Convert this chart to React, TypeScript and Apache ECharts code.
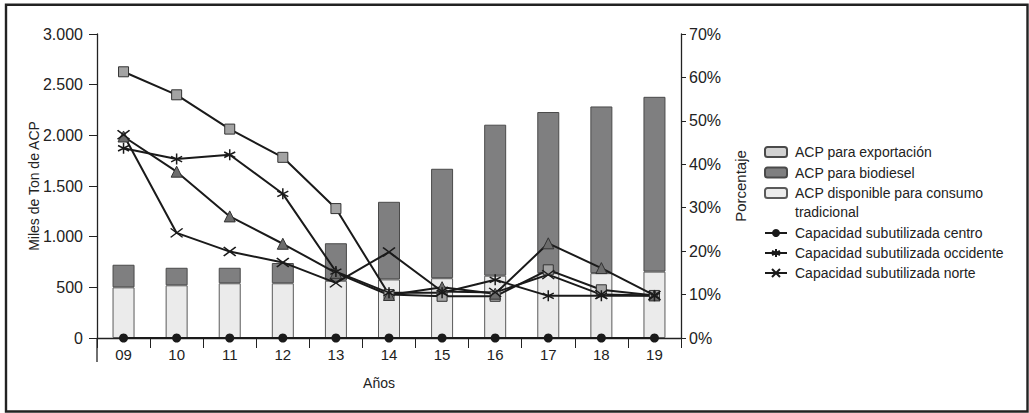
import React, { useEffect, useRef } from "react";
import * as echarts from "echarts";

const years = ["09", "10", "11", "12", "13", "14", "15", "16", "17", "18", "19"];
const acpDisponible = [500, 520, 540, 540, 565, 578, 590, 615, 640, 640, 655];
const acpBiodiesel = [223, 173, 153, 200, 370, 766, 1080, 1490, 1590, 1645, 1725];
const acpExportacion: (number | null)[] = [null, null, null, null, null, null, null, null, null, null, null];
const capCentro = [0, 0, 0, 0, 0, 0, 0, 0, 0, 0, 0];
const capOccidente = [43.7, 41.2, 42.2, 33.2, 15.3, 10.4, 10.4, 13.4, 9.7, 9.7, 9.7];
const capNorte = [46.8, 24.2, 19.9, 17.4, 12.7, 19.8, 10.7, 10.5, 14.6, 10.0, 9.8];
const capOriente = [61.3, 56.0, 48.1, 41.6, 29.8, 10.0, 9.6, 9.6, 15.7, 11.1, 9.8];
const capNacional = [46.4, 38.3, 28.0, 21.7, 15.0, 9.9, 11.7, 10.2, 21.8, 16.1, 9.8];

const FONT = "'Liberation Sans', Arial, Helvetica, sans-serif";
const LINE = "#1a1a1a";

const grid = { left: 97, right: 348, top: 34, bottom: 75 };

export default function App() {
  const ref = useRef<HTMLDivElement>(null);
  useEffect(() => {
    if (!ref.current) return;
    const chart = echarts.init(ref.current, undefined, { renderer: "svg" });
    const asterisk = "path://M5,0 L5,10 M0.7,2.5 L9.3,7.5 M0.7,7.5 L9.3,2.5";
    const cross = "path://M0,0 L12,9 M0,9 L12,0";
    const axisY0 = 413 - grid.bottom;
    const legendText = { fontSize: 14, color: "#222", lineHeight: 16, padding: [0, 0, 0, 3] };
    chart.setOption({
      animation: false,
      textStyle: { fontFamily: FONT },
      grid: grid,
      legend: [
        {
          orient: "vertical",
          left: 764,
          top: 144,
          padding: 0,
          itemWidth: 22,
          itemHeight: 10,
          itemGap: 4.5,
          textStyle: legendText,
          data: ["ACP para exportación", "ACP para biodiesel", "ACP disponible para consumo"],
        },
        {
          orient: "vertical",
          left: 764,
          top: 225,
          padding: 0,
          itemWidth: 22,
          itemHeight: 10,
          itemGap: 4,
          textStyle: legendText,
          data: [
            "Capacidad subutilizada centro",
            "Capacidad subutilizada occidente",
            "Capacidad subutilizada norte",
          ],
        },
      ],
      graphic: [
        {
          type: "rect",
          shape: { x: 6, y: 4.7, width: 1021.5, height: 406.8 },
          style: { fill: "none", stroke: "#222", lineWidth: 2.4 },
          silent: true,
        },
        {
          type: "text",
          left: 795,
          top: 205,
          style: { text: "tradicional", fontSize: 14, fill: "#222", fontFamily: FONT },
        },
        {
          type: "line",
          shape: { x1: grid.left, y1: axisY0, x2: grid.left, y2: axisY0 + 24 },
          style: { stroke: "#222", lineWidth: 1.3 },
          silent: true,
        },
      ],
      xAxis: {
        type: "category",
        data: years,
        boundaryGap: true,
        name: "Años",
        nameLocation: "middle",
        nameGap: 38,
        nameMoveOverlap: false,
        nameTextStyle: { fontSize: 14, color: "#222", padding: [0, 20, 0, 0] },
        axisLine: { lineStyle: { color: "#222", width: 1.3 } },
        axisTick: { show: true, length: 10, alignWithLabel: false, lineStyle: { color: "#222" } },
        axisLabel: { fontSize: 15, color: "#222", margin: 9 },
      },
      yAxis: [
        {
          type: "value",
          min: 0,
          max: 3000,
          interval: 500,
          name: "Miles de Ton de ACP",
          nameLocation: "middle",
          nameRotate: 90,
          nameGap: 56,
          nameMoveOverlap: false,
          nameTextStyle: { fontSize: 14, color: "#222" },
          axisLine: { show: true, lineStyle: { color: "#222", width: 1.3 } },
          axisTick: { show: true, length: 8, lineStyle: { color: "#222" } },
          splitLine: { show: false },
          axisLabel: {
            fontSize: 16,
            color: "#222",
            margin: 14,
            formatter: (v: number) => String(v).replace(/\B(?=(\d{3})+(?!\d))/g, "."),
          },
        },
        {
          type: "value",
          min: 0,
          max: 70,
          interval: 10,
          position: "right",
          name: "Porcentaje",
          nameLocation: "middle",
          nameRotate: 90,
          nameGap: 52,
          nameMoveOverlap: false,
          nameTextStyle: { fontSize: 15, color: "#222" },
          axisLine: { show: true, lineStyle: { color: "#222", width: 1.3 } },
          axisTick: { show: true, length: 5, lineStyle: { color: "#222" } },
          splitLine: { show: false },
          axisLabel: { fontSize: 16, color: "#222", margin: 8, formatter: "{value}%" },
        },
      ],
      series: [
        {
          name: "ACP disponible para consumo",
          type: "bar",
          stack: "acp",
          barWidth: 22,
          data: acpDisponible,
          itemStyle: { color: "#ebebeb", borderColor: "#5a5a5a", borderWidth: 1 },
        },
        {
          name: "ACP para biodiesel",
          type: "bar",
          stack: "acp",
          barWidth: 22,
          data: acpBiodiesel,
          itemStyle: { color: "#7f7f80", borderColor: "#4a4a4a", borderWidth: 1 },
        },
        {
          name: "ACP para exportación",
          type: "bar",
          stack: "acp",
          barWidth: 22,
          data: acpExportacion,
          itemStyle: { color: "#d2d2d2", borderColor: "#4a4a4a", borderWidth: 1 },
        },
        {
          name: "Capacidad subutilizada oriente",
          type: "line",
          yAxisIndex: 1,
          data: capOriente,
          symbol: "rect",
          symbolSize: 10,
          clip: false,
          z: 3,
          lineStyle: { color: LINE, width: 2 },
          itemStyle: { color: "#a3a3a3", borderColor: "#333", borderWidth: 1 },
        },
        {
          name: "Capacidad subutilizada nacional",
          type: "line",
          yAxisIndex: 1,
          data: capNacional,
          symbol: "triangle",
          symbolSize: 11,
          clip: false,
          z: 3,
          lineStyle: { color: LINE, width: 2 },
          itemStyle: { color: "#6c6c6c", borderColor: "#333", borderWidth: 1 },
        },
        {
          name: "Capacidad subutilizada occidente",
          type: "line",
          yAxisIndex: 1,
          data: capOccidente,
          symbol: asterisk,
          symbolSize: 11,
          clip: false,
          z: 3,
          lineStyle: { color: LINE, width: 2 },
          itemStyle: { color: LINE, borderColor: LINE, borderWidth: 1.5 },
        },
        {
          name: "Capacidad subutilizada norte",
          type: "line",
          yAxisIndex: 1,
          data: capNorte,
          symbol: cross,
          symbolSize: [12, 9],
          clip: false,
          z: 3,
          lineStyle: { color: LINE, width: 2 },
          itemStyle: { color: LINE, borderColor: LINE, borderWidth: 1.5 },
        },
        {
          name: "Capacidad subutilizada centro",
          type: "line",
          yAxisIndex: 1,
          data: capCentro,
          symbol: "circle",
          symbolSize: 9,
          clip: false,
          z: 4,
          lineStyle: { color: LINE, width: 2 },
          itemStyle: { color: LINE },
        },
      ],
    });
    return () => chart.dispose();
  }, []);
  return (
    <div
      ref={ref}
      style={{ position: "absolute", left: 0, top: 0, width: 1029, height: 413, background: "#fff" }}
    />
  );
}
